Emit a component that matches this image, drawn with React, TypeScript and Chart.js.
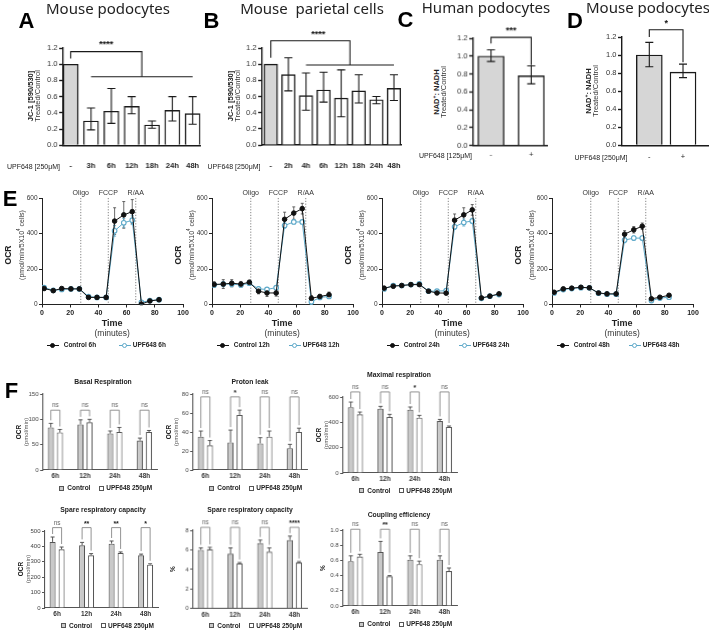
import { useEffect, useRef } from 'react';
import type { ReactNode } from 'react';
import { Chart, registerables } from 'chart.js';

Chart.register(...registerables);

const ARIAL = '"Liberation Sans", Arial, Helvetica, sans-serif';
const TITLE_FONT = '"Noto Sans", "Open Sans", sans-serif';
const BLUE = '#5ea9c9';
const GRAY = '#d6d6d6';
const FGRAY = '#c9c9c9';
Chart.defaults.font.family = ARIAL;

// A: JC-1 ratio, mouse podocytes
const jcPodoLabels = ['-', '3h', '6h', '12h', '18h', '24h', '48h'];
const jcPodoValues = [1.0, 0.3, 0.42, 0.48, 0.25, 0.43, 0.39];
const jcPodoLow = [1.0, 0.19, 0.27, 0.39, 0.21, 0.3, 0.26];
const jcPodoHigh = [1.0, 0.46, 0.7, 0.6, 0.3, 0.6, 0.6];

// B: JC-1 ratio, mouse parietal cells
const jcParLabels = ['-', '2h', '4h', '6h', '12h', '18h', '24h', '48h'];
const jcParValues = [1.0, 0.87, 0.61, 0.68, 0.58, 0.67, 0.56, 0.7];
const jcParLow = [1.0, 0.67, 0.43, 0.53, 0.35, 0.52, 0.51, 0.55];
const jcParHigh = [1.0, 1.08, 0.89, 0.9, 0.93, 0.87, 0.6, 0.87];

// C, D: NAD+/NADH
const nadLabels = ['-', '+'];
const nadHumanValues = [1.0, 0.78];
const nadHumanLow = [0.94, 0.69];
const nadHumanHigh = [1.07, 0.89];
const nadMouseValues = [1.0, 0.81];
const nadMouseLow = [0.87, 0.75];
const nadMouseHigh = [1.14, 0.9];

// E: seahorse traces
const seahorseTimes = [1.5, 8, 14, 20.5, 26.5, 33, 39, 45.5, 51.5, 58, 64, 70.5, 76.5, 83];
const injectionTimes = [27.5, 47, 66.5];
const injectionLabels = ['Oligo', 'FCCP', 'R/AA'];
const traceHours = ['6h', '12h', '24h', '48h'];

const ctrl6h = [90, 78, 90, 88, 88, 40, 40, 40, 470, 505, 523, 2, 20, 27];
const ctrl6hSd = [8, 8, 6, 5, 6, 6, 5, 5, 75, 75, 68, 5, 5, 5];
const upf6h = [95, 80, 85, 88, 88, 45, 40, 40, 415, 460, 475, 12, 22, 27];
const upf6hSd = [8, 6, 8, 5, 5, 6, 5, 5, 30, 25, 25, 8, 5, 5];

const ctrl12h = [113, 115, 120, 115, 125, 75, 65, 65, 480, 515, 540, 35, 45, 55];
const ctrl12hSd = [15, 25, 20, 15, 12, 15, 20, 18, 40, 35, 30, 15, 12, 15];
const upf12h = [110, 115, 115, 110, 120, 88, 85, 95, 445, 465, 465, 15, 40, 45];
const upf12hSd = [12, 15, 15, 12, 10, 10, 8, 10, 15, 10, 10, 15, 8, 10];

const ctrl24h = [92, 103, 107, 112, 112, 75, 65, 64, 475, 505, 533, 37, 47, 60];
const ctrl24hSd = [8, 10, 8, 8, 8, 8, 6, 6, 35, 40, 30, 8, 6, 6];
const upf24h = [88, 107, 107, 112, 116, 75, 75, 78, 438, 462, 471, 35, 47, 56];
const upf24hSd = [8, 10, 8, 8, 10, 6, 6, 8, 15, 20, 15, 6, 5, 5];

const ctrl48h = [69, 88, 92, 97, 94, 65, 60, 60, 396, 421, 441, 32, 41, 52];
const ctrl48hSd = [6, 6, 5, 5, 5, 5, 5, 5, 20, 18, 18, 5, 5, 6];
const upf48h = [65, 84, 90, 95, 94, 64, 58, 58, 363, 374, 374, 22, 36, 41];
const upf48hSd = [6, 6, 5, 5, 5, 5, 5, 5, 15, 12, 12, 5, 5, 5];

// F: seahorse summaries
const fGroups = ['6h', '12h', '24h', '48h'];

const basalCtrl = [84, 90, 72, 58];
const basalCtrlSd = [8, 9, 5, 5];
const basalUpf = [74, 94, 75, 75];
const basalUpfSd = [6, 6, 9, 3];
const basalSig = ['ns', 'ns', 'ns', 'ns'];

const leakCtrl = [35, 29, 28, 23];
const leakCtrlSd = [6, 13, 6, 4];
const leakUpf = [26, 58, 35, 40];
const leakUpfSd = [5, 5, 6, 4];
const leakSig = ['ns', '*', 'ns', 'ns'];

const maxCtrl = [520, 508, 500, 410];
const maxCtrlSd = [40, 18, 21, 13];
const maxUpf = [463, 442, 437, 363];
const maxUpfSd = [18, 21, 18, 8];
const maxSig = ['ns', 'ns', '*', 'ns'];

const spareCtrl = [429, 407, 418, 342];
const spareCtrlSd = [32, 19, 17, 8];
const spareUpf = [381, 342, 357, 281];
const spareUpfSd = [15, 11, 7, 6];
const spareSig = ['ns', '**', '**', '*'];

const sparePctCtrl = [6.0, 5.6, 6.7, 7.0];
const sparePctCtrlSd = [0.2, 0.6, 0.3, 0.4];
const sparePctUpf = [6.05, 4.6, 5.8, 4.7];
const sparePctUpfSd = [0.2, 0.1, 0.4, 0.1];
const sparePctSig = ['ns', 'ns', 'ns', '****'];

const coupCtrl = [0.59, 0.71, 0.61, 0.61];
const coupCtrlSd = [0.07, 0.14, 0.05, 0.05];
const coupUpf = [0.65, 0.39, 0.55, 0.46];
const coupUpfSd = [0.03, 0.01, 0.04, 0.04];
const coupSig = ['ns', '**', 'ns', 'ns'];

type Poly = { xs: number[]; ys: number[] };
type Note = { x: number; y: number; text: string };
type Series = { values: number[]; low: number[]; high: number[]; fill: string | string[] };
type ErrSpec = { low: number[]; high: number[]; color: string; width: number; cap: number; lowCap: boolean };
type Style = {
  stroke: string; axisWidth: number; barBorder: number;
  barWidth?: number; catPct?: number; barPct?: number;
  tickFont: number; tickColor: string; tickLen: number;
  labelFont: number; labelBold: boolean; labelPad: number; labelColor: string;
  cap: number; lowCap: boolean; errColor: string; errWidth: number;
  bracketColor: string; bracketWidth: number; noteFont: number;
};

const BIG: Style = {
  stroke: '#1a1a1a', axisWidth: 1.4, barBorder: 1.4,
  tickFont: 7.5, tickColor: '#333', tickLen: 4,
  labelFont: 7.5, labelBold: true, labelPad: 16, labelColor: '#222',
  cap: 8, lowCap: true, errColor: '#1a1a1a', errWidth: 1.1,
  bracketColor: '#1a1a1a', bracketWidth: 1.1, noteFont: 9,
};

const SMALL: Style = {
  stroke: '#555', axisWidth: 1.1, barBorder: 1.1,
  catPct: 0.61, barPct: 0.67,
  tickFont: 6, tickColor: '#444', tickLen: 3,
  labelFont: 6.5, labelBold: true, labelPad: 2.5, labelColor: '#333',
  cap: 4, lowCap: false, errColor: '#555', errWidth: 1,
  bracketColor: '#777', bracketWidth: 0.8, noteFont: 7,
};

// error bars drawn at each element's x, values through the y scale
function errorPlugin(errs: ErrSpec[], before: boolean) {
  const draw = (chart: any) => {
    const { ctx } = chart;
    const ys = chart.scales.y;
    errs.forEach((e, d) => {
      chart.getDatasetMeta(d).data.forEach((el: any, i: number) => {
        const lo = e.low[i];
        const hi = e.high[i];
        if (lo === hi) return;
        const x = el.x;
        const y0 = ys.getPixelForValue(lo);
        const y1 = ys.getPixelForValue(hi);
        ctx.save();
        ctx.strokeStyle = e.color;
        ctx.lineWidth = e.width;
        ctx.beginPath();
        ctx.moveTo(x, y0);
        ctx.lineTo(x, y1);
        ctx.moveTo(x - e.cap / 2, y1);
        ctx.lineTo(x + e.cap / 2, y1);
        if (e.lowCap) {
          ctx.moveTo(x - e.cap / 2, y0);
          ctx.lineTo(x + e.cap / 2, y0);
        }
        ctx.stroke();
        ctx.restore();
      });
    });
  };
  return before ? { id: 'errBefore', beforeDatasetsDraw: draw } : { id: 'errAfter', afterDatasetsDraw: draw };
}

// significance brackets given in axis values
function bracketPlugin(polys: Poly[], notes: Note[], st: Style) {
  return {
    id: 'brackets',
    afterDraw(chart: any) {
      const { ctx } = chart;
      const xs = chart.scales.x;
      const ys = chart.scales.y;
      ctx.save();
      ctx.strokeStyle = st.bracketColor;
      ctx.lineWidth = st.bracketWidth;
      polys.forEach((p) => {
        ctx.beginPath();
        p.xs.forEach((xv, k) => {
          const X = xs.getPixelForValue(xv);
          const Y = ys.getPixelForValue(p.ys[k]);
          if (k === 0) ctx.moveTo(X, Y);
          else ctx.lineTo(X, Y);
        });
        ctx.stroke();
      });
      ctx.fillStyle = '#111';
      ctx.font = `bold ${st.noteFont}px ${ARIAL}`;
      ctx.textAlign = 'center';
      ctx.textBaseline = 'middle';
      notes.forEach((n) => ctx.fillText(n.text, xs.getPixelForValue(n.x), ys.getPixelForValue(n.y)));
      ctx.restore();
    },
  };
}

// control vs treated bracket inside each group
function pairPlugin(top: number, texts: string[], highs: number[][], st: Style) {
  return {
    id: 'pairs',
    afterDraw(chart: any) {
      const { ctx } = chart;
      const ys = chart.scales.y;
      const m0 = chart.getDatasetMeta(0);
      const m1 = chart.getDatasetMeta(1);
      const yt = ys.getPixelForValue(top);
      ctx.save();
      ctx.strokeStyle = st.bracketColor;
      ctx.lineWidth = st.bracketWidth;
      texts.forEach((t, i) => {
        const x0 = m0.data[i].x;
        const x1 = m1.data[i].x;
        const l0 = ys.getPixelForValue(highs[0][i]) - 3;
        const l1 = ys.getPixelForValue(highs[1][i]) - 3;
        ctx.beginPath();
        ctx.moveTo(x0, l0);
        ctx.lineTo(x0, yt);
        ctx.lineTo(x1, yt);
        ctx.lineTo(x1, l1);
        ctx.stroke();
        const ns = t === 'ns';
        ctx.font = ns ? `6.5px ${ARIAL}` : `bold ${st.noteFont}px ${ARIAL}`;
        ctx.fillStyle = ns ? '#666' : '#222';
        ctx.textAlign = 'center';
        ctx.textBaseline = ns ? 'bottom' : 'middle';
        ctx.fillText(t, (x0 + x1) / 2, ns ? yt - 1.5 : yt - 4);
      });
      ctx.restore();
    },
  };
}

type BarProps = {
  ax: number; top: number; bottom: number; unit: number; xMin: number; xMax: number;
  yMax: number; yStep: number; decimals: number;
  labels: string[]; series: Series[]; style: Style;
  polys?: Poly[]; notes?: Note[]; pairTop?: number; pairTexts?: string[];
};

function BarPanel(p: BarProps) {
  const ref = useRef<HTMLCanvasElement>(null);
  const st = p.style;
  const yw = 30;
  const padTop = 34;
  const padRight = 12;
  const xh = 26;
  const plotW = (p.xMax - p.xMin) * p.unit;
  const box = {
    left: p.ax - yw,
    top: p.top - padTop,
    width: yw + plotW + padRight,
    height: padTop + (p.bottom - p.top) + xh,
  };

  useEffect(() => {
    const ctx = ref.current?.getContext('2d');
    if (!ctx) return;
    const plugins: any[] = [
      errorPlugin(p.series.map((s) => ({ low: s.low, high: s.high, color: st.errColor, width: st.errWidth, cap: st.cap, lowCap: st.lowCap })), false),
    ];
    if (p.polys) plugins.push(bracketPlugin(p.polys, p.notes || [], st));
    if (p.pairTexts && p.pairTop !== undefined) plugins.push(pairPlugin(p.pairTop, p.pairTexts, p.series.map((s) => s.high), st));

    const chart = new Chart(ctx, {
      type: 'bar',
      data: {
        datasets: p.series.map((s) => ({
          data: s.values.map((v, i) => ({ x: i, y: v })),
          backgroundColor: s.fill,
          borderColor: st.stroke,
          borderWidth: st.barBorder,
          barThickness: st.barWidth,
          categoryPercentage: st.catPct,
          barPercentage: st.barPct,
        })),
      },
      options: {
        responsive: true,
        maintainAspectRatio: false,
        animation: false,
        layout: { padding: { top: padTop, right: padRight, left: 0, bottom: 0 } },
        plugins: { legend: { display: false }, tooltip: { enabled: false } },
        scales: {
          x: {
            type: 'linear',
            min: p.xMin,
            max: p.xMax,
            offset: false,
            grid: { display: false, drawTicks: false, offset: false },
            border: { display: true, color: st.stroke, width: st.axisWidth },
            ticks: {
              stepSize: 1,
              includeBounds: false,
              autoSkip: false,
              maxRotation: 0,
              padding: st.labelPad,
              color: st.labelColor,
              font: { size: st.labelFont, weight: st.labelBold ? 'bold' : 'normal' },
              callback: (v: any) => p.labels[v] ?? '',
            },
            afterFit: (s: any) => {
              s.height = xh;
              s.paddingLeft = 0;
              s.paddingRight = 0;
            },
          },
          y: {
            min: 0,
            max: p.yMax,
            grid: { display: true, drawOnChartArea: false, drawTicks: true, tickLength: st.tickLen, tickColor: st.stroke, tickWidth: st.axisWidth },
            border: { display: true, color: st.stroke, width: st.axisWidth },
            ticks: {
              stepSize: p.yStep,
              padding: 1.5,
              color: st.tickColor,
              font: { size: st.tickFont },
              callback: (v: any) => Number(v).toFixed(p.decimals),
            },
            afterFit: (s: any) => {
              s.width = yw;
              s.paddingTop = 0;
              s.paddingBottom = 0;
            },
          },
        },
      } as any,
      plugins,
    });
    return () => chart.destroy();
  }, []);

  return (
    <div style={{ position: 'absolute', ...box }}>
      <canvas ref={ref} />
    </div>
  );
}

type TraceProps = { ax: number; ctrl: number[]; ctrlSd: number[]; upf: number[]; upfSd: number[] };

function TracePanel(p: TraceProps) {
  const ref = useRef<HTMLCanvasElement>(null);
  const top = 197.5;
  const bottom = 304;
  const plotW = 141;
  const yw = 30;
  const padTop = 14;
  const padRight = 8;
  const xh = 16;
  const box = { left: p.ax - yw, top: top - padTop, width: yw + plotW + padRight, height: padTop + (bottom - top) + xh };

  useEffect(() => {
    const ctx = ref.current?.getContext('2d');
    if (!ctx) return;
    const lo = (v: number[], sd: number[]) => v.map((x, i) => x - sd[i]);
    const hi = (v: number[], sd: number[]) => v.map((x, i) => x + sd[i]);
    const injections = {
      id: 'injections',
      beforeDatasetsDraw(chart: any) {
        const c = chart.ctx;
        const xs = chart.scales.x;
        const area = chart.chartArea;
        c.save();
        c.strokeStyle = '#777';
        c.lineWidth = 0.9;
        c.setLineDash([1.2, 1.6]);
        injectionTimes.forEach((t) => {
          const X = xs.getPixelForValue(t);
          c.beginPath();
          c.moveTo(X, area.top);
          c.lineTo(X, area.bottom);
          c.stroke();
        });
        c.restore();
      },
      afterDraw(chart: any) {
        const c = chart.ctx;
        const xs = chart.scales.x;
        const area = chart.chartArea;
        c.save();
        c.fillStyle = '#333';
        c.font = `7px ${ARIAL}`;
        c.textAlign = 'center';
        c.textBaseline = 'middle';
        injectionTimes.forEach((t, i) => c.fillText(injectionLabels[i], xs.getPixelForValue(t), area.top - 4.5));
        c.restore();
      },
    };
    const chart = new Chart(ctx, {
      type: 'line',
      data: {
        datasets: [
          {
            data: seahorseTimes.map((t, i) => ({ x: t, y: p.ctrl[i] })),
            borderColor: '#111',
            borderWidth: 1,
            pointRadius: 2.3,
            pointBorderWidth: 1,
            pointBorderColor: '#111',
            pointBackgroundColor: '#111',
            tension: 0,
          },
          {
            data: seahorseTimes.map((t, i) => ({ x: t, y: p.upf[i] })),
            borderColor: BLUE,
            borderWidth: 1,
            pointRadius: 2.3,
            pointBorderWidth: 1.1,
            pointBorderColor: BLUE,
            pointBackgroundColor: '#fff',
            tension: 0,
          },
        ],
      },
      options: {
        responsive: true,
        maintainAspectRatio: false,
        animation: false,
        layout: { padding: { top: padTop, right: padRight, left: 0, bottom: 0 } },
        plugins: { legend: { display: false }, tooltip: { enabled: false } },
        scales: {
          x: {
            type: 'linear',
            min: 0,
            max: 100,
            grid: { display: true, drawOnChartArea: false, drawTicks: true, tickLength: 3, tickColor: '#222', tickWidth: 1 },
            border: { display: true, color: '#222', width: 1 },
            ticks: { stepSize: 20, padding: 1, maxRotation: 0, color: '#222', font: { size: 7, weight: 'bold' } },
            afterFit: (s: any) => {
              s.height = xh;
              s.paddingLeft = 0;
              s.paddingRight = 0;
            },
          },
          y: {
            min: 0,
            max: 600,
            grid: { display: true, drawOnChartArea: false, drawTicks: true, tickLength: 3, tickColor: '#222', tickWidth: 1 },
            border: { display: true, color: '#222', width: 1 },
            ticks: { stepSize: 200, padding: 1.5, color: '#333', font: { size: 6.5 } },
            afterFit: (s: any) => {
              s.width = yw;
              s.paddingTop = 0;
              s.paddingBottom = 0;
            },
          },
        },
      } as any,
      plugins: [
        injections,
        errorPlugin(
          [
            { low: lo(p.ctrl, p.ctrlSd), high: hi(p.ctrl, p.ctrlSd), color: '#444', width: 0.8, cap: 3, lowCap: true },
            { low: lo(p.upf, p.upfSd), high: hi(p.upf, p.upfSd), color: BLUE, width: 0.8, cap: 3, lowCap: true },
          ],
          true
        ),
      ],
    });
    return () => chart.destroy();
  }, []);

  return (
    <div style={{ position: 'absolute', ...box }}>
      <canvas ref={ref} />
    </div>
  );
}

function Txt(props: { x: number; y: number; size: number; bold?: boolean; color?: string; family?: string; rotate?: boolean; left?: boolean; children: ReactNode }) {
  const tr = props.rotate ? 'translate(-50%, -50%) rotate(-90deg)' : props.left ? 'translate(0, -50%)' : 'translate(-50%, -50%)';
  return (
    <div
      style={{
        position: 'absolute',
        left: props.x,
        top: props.y,
        transform: tr,
        fontSize: props.size,
        fontWeight: props.bold ? 700 : 400,
        color: props.color || '#222',
        fontFamily: props.family || ARIAL,
        lineHeight: 1,
        whiteSpace: 'pre',
      }}
    >
      {props.children}
    </div>
  );
}

function FLegend({ ax, y }: { ax: number; y: number }) {
  const sq = (left: number, fill: string) => (
    <div style={{ position: 'absolute', left, top: y - 2.5, width: 5, height: 5, background: fill, border: '1px solid #555', boxSizing: 'border-box' }} />
  );
  return (
    <>
      {sq(ax + 16, FGRAY)}
      <Txt x={ax + 24} y={y} size={6.5} bold left>Control</Txt>
      {sq(ax + 56, '#fff')}
      <Txt x={ax + 63} y={y} size={6.5} bold left>UPF648 250μM</Txt>
    </>
  );
}

function TraceLegend({ ax, hours }: { ax: number; hours: string }) {
  const y = 345;
  const mark = (cx: number, color: string, fill: string) => (
    <>
      <div style={{ position: 'absolute', left: cx - 6, top: y - 0.5, width: 12, height: 1, background: color }} />
      <div style={{ position: 'absolute', left: cx - 2.5, top: y - 2.5, width: 5, height: 5, borderRadius: '50%', background: fill, border: `1px solid ${color}`, boxSizing: 'border-box' }} />
    </>
  );
  return (
    <>
      {mark(ax + 11, '#111', '#111')}
      <Txt x={ax + 22} y={y} size={6.5} bold left>{`Control ${hours}`}</Txt>
      {mark(ax + 83, BLUE, '#fff')}
      <Txt x={ax + 91} y={y} size={6.5} bold left>{`UPF648 ${hours}`}</Txt>
    </>
  );
}

const traceSets = [
  { ctrl: ctrl6h, ctrlSd: ctrl6hSd, upf: upf6h, upfSd: upf6hSd },
  { ctrl: ctrl12h, ctrlSd: ctrl12hSd, upf: upf12h, upfSd: upf12hSd },
  { ctrl: ctrl24h, ctrlSd: ctrl24hSd, upf: upf24h, upfSd: upf24hSd },
  { ctrl: ctrl48h, ctrlSd: ctrl48hSd, upf: upf48h, upfSd: upf48hSd },
];

const plus = (v: number[], sd: number[]) => v.map((x, i) => x + sd[i]);

// gray control vs white treated, side by side in each group
const pairSeries = (c: number[], cSd: number[], u: number[], uSd: number[]): Series[] => [
  { values: c, low: c, high: plus(c, cSd), fill: FGRAY },
  { values: u, low: u, high: plus(u, uSd), fill: '#fff' },
];

// one series, first bar (untreated) gray
const ratioSeries = (v: number[], lo: number[], hi: number[]): Series[] => [
  { values: v, low: lo, high: hi, fill: v.map((_, i) => (i === 0 ? GRAY : '#fff')) },
];

const fPanels = [
  { ax: 43.3, top: 394, bottom: 470, yMax: 150, yStep: 50, dec: 0, s: pairSeries(basalCtrl, basalCtrlSd, basalUpf, basalUpfSd), sig: basalSig, bt: 118 },
  { ax: 193.3, top: 394, bottom: 470, yMax: 80, yStep: 20, dec: 0, s: pairSeries(leakCtrl, leakCtrlSd, leakUpf, leakUpfSd), sig: leakSig, bt: 77 },
  { ax: 343.3, top: 396.7, bottom: 472.7, yMax: 600, yStep: 200, dec: 0, s: pairSeries(maxCtrl, maxCtrlSd, maxUpf, maxUpfSd), sig: maxSig, bt: 640 },
  { ax: 45, top: 530.7, bottom: 607.7, yMax: 500, yStep: 100, dec: 0, s: pairSeries(spareCtrl, spareCtrlSd, spareUpf, spareUpfSd), sig: spareSig, bt: 522 },
  { ax: 193.3, top: 530, bottom: 607.7, yMax: 8, yStep: 2, dec: 0, s: pairSeries(sparePctCtrl, sparePctCtrlSd, sparePctUpf, sparePctUpfSd), sig: sparePctSig, bt: 8.3 },
  { ax: 343.3, top: 530, bottom: 606, yMax: 1.0, yStep: 0.2, dec: 1, s: pairSeries(coupCtrl, coupCtrlSd, coupUpf, coupUpfSd), sig: coupSig, bt: 1.01 },
];
const fTitles = [
  { x: 103, y: 382, text: 'Basal Respiration' },
  { x: 250, y: 382, text: 'Proton leak' },
  { x: 399, y: 375, text: 'Maximal respiration' },
  { x: 103, y: 510, text: 'Spare respiratory capacity' },
  { x: 250, y: 510, text: 'Spare respiratory capacity' },
  { x: 399, y: 515, text: 'Coupling efficiency' },
];

export default function App() {
  return (
    <div style={{ position: 'absolute', left: 0, top: 0, width: 709, height: 634, background: '#fff', overflow: 'hidden', fontFamily: ARIAL }}>
      <BarPanel
        ax={63} top={47.7} bottom={145} unit={20.2} xMin={-0.37} xMax={6.4}
        yMax={1.2} yStep={0.2} decimals={1} labels={jcPodoLabels}
        series={ratioSeries(jcPodoValues, jcPodoLow, jcPodoHigh)}
        style={{ ...BIG, barWidth: 15 }}
        polys={[{ xs: [0, 0, 3.5, 3.5], ys: [1.07, 1.155, 1.155, 0.845] }, { xs: [1, 6], ys: [0.845, 0.845] }]}
        notes={[{ x: 1.75, y: 1.24, text: '****' }]}
      />
      <BarPanel
        ax={262} top={48} bottom={145} unit={17.5} xMin={-0.49} xMax={7.45}
        yMax={1.2} yStep={0.2} decimals={1} labels={jcParLabels}
        series={ratioSeries(jcParValues, jcParLow, jcParHigh)}
        style={{ ...BIG, barWidth: 13.5 }}
        polys={[{ xs: [0, 0, 4.5, 4.5], ys: [1.08, 1.29, 1.29, 0.99] }, { xs: [2, 7], ys: [0.99, 0.99] }]}
        notes={[{ x: 2.7, y: 1.37, text: '****' }]}
      />
      <BarPanel
        ax={473.3} top={38.3} bottom={145} unit={39.9} xMin={-0.44} xMax={1.4}
        yMax={1.2} yStep={0.2} decimals={1} labels={nadLabels}
        series={ratioSeries(nadHumanValues, nadHumanLow, nadHumanHigh)}
        style={{ ...BIG, barWidth: 26, labelPad: 5, labelBold: false }}
        polys={[{ xs: [0, 0, 1, 1], ys: [1.14, 1.21, 1.21, 0.9] }]}
        notes={[{ x: 0.5, y: 1.28, text: '***' }]}
      />
      <BarPanel
        ax={621.7} top={36.7} bottom={145} unit={33.7} xMin={-0.81} xMax={1.78}
        yMax={1.2} yStep={0.2} decimals={1} labels={nadLabels}
        series={ratioSeries(nadMouseValues, nadMouseLow, nadMouseHigh)}
        style={{ ...BIG, barWidth: 26, labelPad: 7, labelBold: false }}
        polys={[{ xs: [0, 0, 1, 1], ys: [1.2, 1.28, 1.28, 0.92] }]}
        notes={[{ x: 0.5, y: 1.35, text: '*' }]}
      />

      {traceSets.map((t, k) => (
        <TracePanel key={k} ax={41.7 + 170 * k} {...t} />
      ))}

      {fPanels.map((f, k) => (
        <BarPanel
          key={k}
          ax={f.ax} top={f.top} bottom={f.bottom} unit={29.5} xMin={-0.41} xMax={3.43}
          yMax={f.yMax} yStep={f.yStep} decimals={f.dec} labels={fGroups}
          series={f.s} style={SMALL} pairTop={f.bt} pairTexts={f.sig}
        />
      ))}

      {/* top row */}
      <Txt x={26.5} y={20.5} size={22} bold color="#000">A</Txt>
      <Txt x={108} y={7.5} size={15} family={TITLE_FONT}>Mouse podocytes</Txt>
      <Txt x={211.5} y={20.5} size={22} bold color="#000">B</Txt>
      <Txt x={312} y={7.5} size={15} family={TITLE_FONT}>{'Mouse  parietal cells'}</Txt>
      <Txt x={405.5} y={19.5} size={22} bold color="#000">C</Txt>
      <Txt x={486} y={7} size={15} family={TITLE_FONT}>Human podocytes</Txt>
      <Txt x={575} y={20.5} size={22} bold color="#000">D</Txt>
      <Txt x={648} y={7} size={15} family={TITLE_FONT}>Mouse podocytes</Txt>

      <Txt x={31} y={96} size={7.5} bold rotate>JC-1 [590/530]</Txt>
      <Txt x={37.5} y={96} size={7.5} rotate color="#333">Treated/Control</Txt>
      <Txt x={231} y={96} size={7.5} bold rotate>JC-1 [590/530]</Txt>
      <Txt x={237.5} y={96} size={7.5} rotate color="#333">Treated/Control</Txt>
      <Txt x={436} y={92} size={7.5} bold rotate>NAD<sup style={{ fontSize: 5 }}>+</sup>: NADH</Txt>
      <Txt x={443.5} y={92} size={7.5} rotate color="#333">Treated/Control</Txt>
      <Txt x={588} y={91} size={7.5} bold rotate>NAD<sup style={{ fontSize: 5 }}>+</sup>: NADH</Txt>
      <Txt x={595.5} y={91} size={7.5} rotate color="#333">Treated/Control</Txt>

      <Txt x={33.5} y={166} size={7}>UPF648 [250μM]</Txt>
      <Txt x={234} y={166} size={7}>UPF648 [250μM]</Txt>
      <Txt x={445.5} y={155} size={7}>UPF648 [125μM]</Txt>
      <Txt x={601} y={157} size={7}>UPF648 [250μM]</Txt>

      {/* row E */}
      <Txt x={10} y={198.5} size={22} bold color="#000">E</Txt>
      {traceHours.map((h, k) => {
        const ax = 41.7 + 170 * k;
        return (
          <div key={h}>
            <Txt x={ax - 34} y={255} size={8.5} bold rotate>OCR</Txt>
            <Txt x={ax - 21} y={245} size={7} rotate color="#333">
              (pmol/min/5X10<sup style={{ fontSize: 4.5 }}>4</sup> cells)
            </Txt>
            <Txt x={ax + 70.5} y={322.7} size={9} bold>Time</Txt>
            <Txt x={ax + 70.5} y={332.7} size={8.5} color="#333">(minutes)</Txt>
            <TraceLegend ax={ax} hours={h} />
          </div>
        );
      })}

      {/* row F */}
      <Txt x={11.5} y={390.5} size={22} bold color="#000">F</Txt>
      {fTitles.map((t, k) => (
        <Txt key={k} x={t.x} y={t.y} size={6.8} bold>{t.text}</Txt>
      ))}
      {fPanels.map((f, k) => {
        const mid = (f.top + f.bottom) / 2;
        const pct = k >= 4;
        return (
          <div key={k}>
            {pct ? (
              <Txt x={f.ax - 20} y={mid} size={6.5} bold rotate>%</Txt>
            ) : (
              <>
                <Txt x={f.ax - 24} y={mid} size={6.5} bold rotate>OCR</Txt>
                <Txt x={f.ax - 17.5} y={mid} size={6} rotate color="#555">(pmol/min)</Txt>
              </>
            )}
            <FLegend ax={f.ax} y={f.bottom + 18} />
          </div>
        );
      })}
    </div>
  );
}
